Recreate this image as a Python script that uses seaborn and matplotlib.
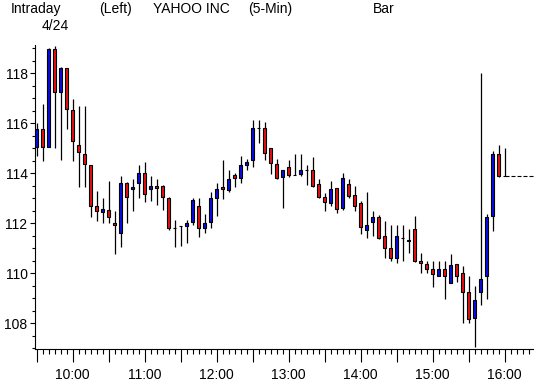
import numpy as np
import pandas as pd
import matplotlib
matplotlib.use("Agg")
import matplotlib.pyplot as plt
from matplotlib.ticker import FixedLocator, MultipleLocator, FixedFormatter
import seaborn as sns

# ---- data (5-minute bars from 9:30) ----
open_ = [115.05, 115.76, 115.05, 118.96, 117.24, 118.20, 116.52, 115.12, 114.76, 114.32,
         112.68, 112.44, 112.52, 112.01, 111.60, 113.60, 113.36, 113.60, 114.00, 113.36,
         113.48, 113.48, 113.00, 111.80, 111.90, 111.90, 112.04, 112.68, 111.82, 112.04,
         113.02, 113.46, 113.32, 113.92, 113.82, 114.34, 114.53, 115.80, 115.80, 115.00,
         114.36, 113.84, 114.24, 113.93, 113.97, 114.13, 114.13, 113.56, 113.04, 112.80,
         113.40, 112.60, 113.56, 113.12, 112.80, 111.72, 112.04, 112.24, 111.48, 111.00,
         110.60, 111.42, 111.32, 111.76, 110.49, 110.36, 110.16, 109.90, 110.16, 109.62,
         110.36, 110.00, 109.24, 108.20, 109.26, 109.90, 112.29, 114.76, 113.89]
high = [116.00, 116.77, 119.00, 119.10, 118.24, 118.20, 116.96, 116.69, 116.69, 114.32,
        113.29, 113.00, 113.69, 112.49, 113.89, 113.66, 113.77, 114.33, 114.44, 113.89,
        113.76, 113.53, 113.04, 112.13, 111.90, 112.13, 113.00, 113.00, 112.36, 113.24,
        113.60, 114.53, 114.13, 114.00, 114.69, 114.56, 116.13, 116.13, 116.03, 115.00,
        114.56, 114.12, 114.53, 114.77, 114.77, 114.33, 114.64, 113.76, 113.20, 113.69,
        113.40, 114.02, 113.76, 113.49, 112.88, 113.25, 112.47, 112.33, 112.07, 111.93,
        111.93, 111.93, 111.76, 112.27, 110.80, 110.49, 110.49, 110.49, 110.49, 110.77,
        110.36, 110.30, 109.89, 109.49, 118.00, 112.37, 114.90, 115.13, 115.02]
low = [114.67, 114.50, 115.05, 115.00, 114.53, 115.76, 114.50, 113.46, 113.46, 112.24,
       112.10, 112.02, 112.00, 110.76, 111.06, 112.00, 112.50, 113.02, 112.86, 112.90,
       112.73, 112.53, 111.73, 111.06, 111.09, 111.22, 111.93, 111.46, 111.62, 111.80,
       112.27, 112.97, 113.26, 113.44, 113.60, 114.13, 114.26, 115.22, 114.53, 113.97,
       113.78, 112.60, 113.86, 113.93, 113.90, 113.53, 113.46, 112.99, 112.47, 112.67,
       112.42, 112.53, 112.99, 112.47, 111.56, 111.40, 111.49, 111.36, 110.60, 110.49,
       110.40, 110.50, 110.80, 110.46, 110.00, 110.02, 109.46, 109.90, 108.97, 109.60,
       109.66, 108.00, 108.00, 107.05, 108.73, 108.96, 111.70, 113.86, 113.89]
close = [115.76, 115.05, 118.96, 117.26, 118.20, 116.56, 115.28, 114.84, 114.36, 112.69,
         112.48, 112.56, 112.24, 111.92, 113.62, 113.04, 113.44, 114.00, 113.16, 113.48,
         113.40, 113.04, 111.80, 111.80, 111.90, 112.00, 112.93, 111.80, 112.00, 113.00,
         113.36, 113.36, 113.76, 113.82, 114.32, 114.44, 115.80, 115.80, 114.80, 114.40,
         113.80, 114.12, 113.92, 113.93, 114.12, 114.13, 113.50, 113.04, 112.84, 113.36,
         112.56, 113.80, 113.09, 112.69, 111.84, 111.92, 112.24, 111.40, 111.00, 110.60,
         111.49, 111.42, 111.28, 110.50, 110.40, 110.16, 109.96, 110.16, 109.90, 110.32,
         109.90, 109.26, 108.16, 108.93, 109.77, 112.24, 114.76, 113.90, 113.89]
bar_times = pd.date_range("2000-04-24 09:30", periods=len(open_), freq="5min")
hour_labels = ["10:00", "11:00", "12:00", "13:00", "14:00", "15:00", "16:00"]
price_labels = [108, 110, 112, 114, 116, 118]

title_left = "Intraday"
title_date = "4/24"
title_side = "(Left)"
title_name = "YAHOO INC"
title_interval = "(5-Min)"
title_type = "Bar"

# ---- style ----
sns.set_theme(style="ticks")
plt.rcParams["font.family"] = ["Liberation Sans", "DejaVu Sans"]
plt.rcParams["font.size"] = 10

UP = "#0a0ae8"
DOWN = "#e81010"

df = pd.DataFrame({"time": bar_times, "open": open_, "high": high,
                   "low": low, "close": close})
df["x"] = np.arange(len(df))
df["up"] = df["close"] >= df["open"]
df["label"] = df["time"].dt.strftime("%H:%M")

W, H = 534, 385
fig = plt.figure(figsize=(W / 100, H / 100), dpi=100)
left_px, right_px, top_px, bottom_px = 35.3, 534, 45, 349.3
ax = fig.add_axes([left_px / W, (H - bottom_px) / H,
                   (right_px - left_px) / W, (bottom_px - top_px) / H])

# wicks
ax.vlines(df["x"], df["low"], df["high"], color="black", lw=0.9, zorder=1)
# bodies
ax.bar(df["x"], df["close"] - df["open"], bottom=df["open"], width=0.58,
       color=np.where(df["up"], UP, DOWN), edgecolor="black",
       linewidth=0.8, zorder=2)

x_right = (right_px - 36.5) / 6.0
ax.set_xlim(-0.2, x_right)
ax.set_ylim(106.95, 119.13)

# last price dashed line
ax.hlines(df["close"].iloc[-1], df["x"].iloc[-1], x_right, color="black",
          lw=0.8, linestyles=(0, (3.6, 1.8)), zorder=1)

# x ticks
half_hour = df[df["time"].dt.minute.isin([0, 30])]
ax.xaxis.set_major_locator(FixedLocator(half_hour["x"].tolist()))
ax.xaxis.set_major_formatter(FixedFormatter(
    [lab if lab in hour_labels else "" for lab in half_hour["label"]]))
ax.xaxis.set_minor_locator(MultipleLocator(1))
ax.tick_params(axis="x", which="major", length=9.4, width=0.8, pad=4,
               labelsize=10, color="black", labelcolor="black")
ax.tick_params(axis="x", which="minor", length=3.6, width=0.8, color="black")

# y ticks
ax.yaxis.set_major_locator(FixedLocator(price_labels))
ax.yaxis.set_major_formatter(FixedFormatter([str(v) for v in price_labels]))
ax.yaxis.set_minor_locator(MultipleLocator(0.5))
ax.tick_params(axis="y", which="major", length=3.6, width=0.8, pad=2,
               labelsize=10, color="black", labelcolor="black")
ax.tick_params(axis="y", which="minor", length=2.2, width=0.8, color="black")

sns.despine(ax=ax, top=True, right=True)
for s in ("left", "bottom"):
    ax.spines[s].set_linewidth(0.8)
    ax.spines[s].set_color("black")
ax.set_facecolor("white")
fig.patch.set_facecolor("white")

def ftext(xp, yp, s):
    fig.text(xp / W, 1 - yp / H, s, ha="left", va="top", fontsize=10, color="black")

ftext(11, 2, title_left)
ftext(99, 2, title_side)
ftext(153, 2, title_name)
ftext(248, 2, title_interval)
ftext(373, 2, title_type)
ftext(42, 19, title_date)

fig.savefig("out.png", dpi=100, facecolor="white")
